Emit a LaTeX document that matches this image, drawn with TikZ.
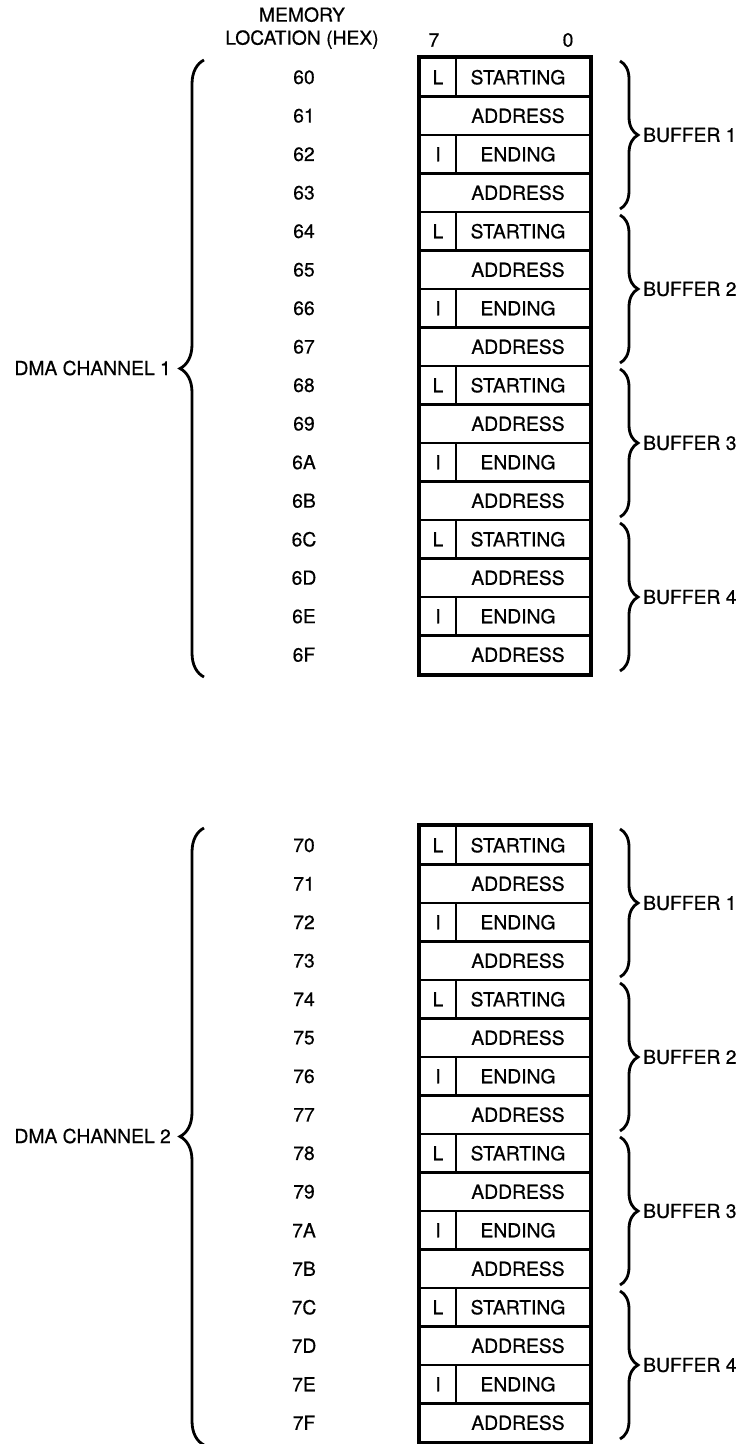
\documentclass[tikz,border=0pt]{standalone}
\usepackage{fontspec}
\setmainfont{TeX Gyre Heros}[FakeBold=0.6]
\usetikzlibrary{decorations.pathreplacing}
\begin{document}
\begin{tikzpicture}[x=1pt, y=-1pt,
    every node/.style={font=\fontsize{19.3}{23}\selectfont, inner sep=0pt},
    regrow/.style={rectangle, draw, line width=2.6pt,
                   minimum width=170pt, minimum height=38.5pt},
    flagbox/.style={rectangle, draw, line width=2.6pt,
                    minimum width=36pt, minimum height=38.5pt},
    frame/.style={line width=3.4pt},
    bufbrace/.style={decorate, decoration={brace, amplitude=18pt}, line width=2.8pt},
    chbrace/.style={decorate, decoration={brace, mirror, amplitude=24pt}, line width=2.8pt},
  ]
  \useasboundingbox (0,0) rectangle (747,1444);

  % header
  \node[align=center] (hdr) at (302,28) {MEMORY\\LOCATION (HEX)};
  \node (msb) at (434,40) {7};
  \node (lsb) at (568,40) {0};

  \foreach \ch/\top/\hi in {1/58/6, 2/826/7} {
    \foreach \g/\ha/\hb/\hc/\hd in {0/0/1/2/3, 1/4/5/6/7, 2/8/9/A/B, 3/C/D/E/F} {
      \pgfmathsetmacro\yg{\top+4*\g*38.5}
      \pgfmathtruncatemacro\n{\g+1}
      % starting address
      \node[regrow] (m\hi\ha) at (505,\yg+19.25) {};
      \node[flagbox, anchor=west] (f\hi\ha) at (m\hi\ha.west) {L};
      \node (t\hi\ha) at (518,\yg+19.25) {STARTING};
      \node[regrow] (m\hi\hb) at (505,\yg+57.75) {};
      \node (t\hi\hb) at (518,\yg+57.75) {ADDRESS};
      % ending address
      \node[regrow] (m\hi\hc) at (505,\yg+96.25) {};
      \node[flagbox, anchor=west] (f\hi\hc) at (m\hi\hc.west) {I};
      \node (t\hi\hc) at (518,\yg+96.25) {ENDING};
      \node[regrow] (m\hi\hd) at (505,\yg+134.75) {};
      \node (t\hi\hd) at (518,\yg+134.75) {ADDRESS};
      % locations
      \node (a\hi\ha) at (304,\yg+19.25) {\hi\ha};
      \node (a\hi\hb) at (304,\yg+57.75) {\hi\hb};
      \node (a\hi\hc) at (304,\yg+96.25) {\hi\hc};
      \node (a\hi\hd) at (304,\yg+134.75) {\hi\hd};
      % buffer
      \coordinate (bt\ch\g) at (620,\yg+3);
      \coordinate (bb\ch\g) at (620,\yg+151);
      \draw[bufbrace] (bt\ch\g) -- (bb\ch\g);
      \node[anchor=west] (buf\ch\g) at (643,\yg+77) {BUFFER \n};
    }
    \draw[frame] (m\hi0.north west) rectangle (m\hi F.south east);
    \coordinate (ct\ch) at (204,\top+2);
    \coordinate (cb\ch) at (204,\top+619);
    \draw[chbrace] (ct\ch) -- (cb\ch);
    \node[anchor=east] (dma\ch) at (171,\top+310) {DMA CHANNEL \ch};
  }
\end{tikzpicture}
\end{document}
